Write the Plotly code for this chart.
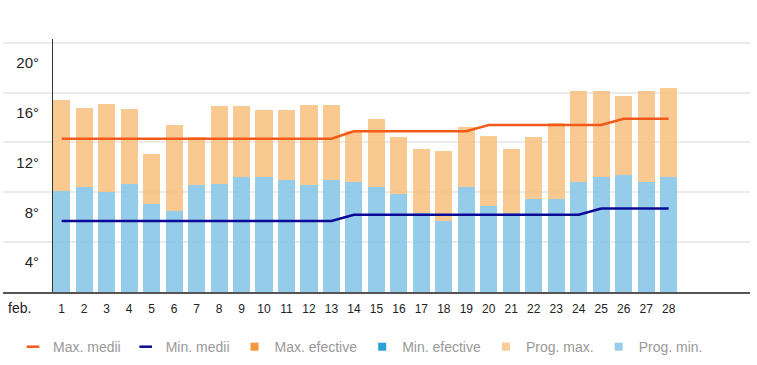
import plotly.graph_objects as go

days = list(range(1, 29))
day_labels = [str(d) for d in days]
month_label = "feb."

prog_max = [15.4, 14.8, 15.1, 14.7, 11.1, 13.4, 12.4, 14.9, 14.9, 14.6, 14.6, 15.0, 15.0, 12.9,
            13.9, 12.4, 11.5, 11.3, 13.2, 12.5, 11.5, 12.4, 13.6, 16.1, 16.1, 15.7, 16.1, 16.4]
prog_min = [8.1, 8.4, 8.0, 8.7, 7.1, 6.5, 8.6, 8.7, 9.2, 9.2, 9.0, 8.6, 9.0, 8.8,
            8.4, 7.9, 6.3, 5.7, 8.4, 6.9, 6.3, 7.5, 7.5, 8.8, 9.2, 9.4, 8.8, 9.2]
max_medii = [12.3] * 13 + [12.9] * 6 + [13.4] * 6 + [13.9] * 3
min_medii = [5.7] * 13 + [6.2] * 11 + [6.7] * 4

y_ticks = [4, 8, 12, 16, 20]
y_tick_text = ["4°", "8°", "12°", "16°", "20°"]

FONT = "Liberation Sans, Arial, sans-serif"
ORANGE_LINE = "#f25a1c"
NAVY_LINE = "#0a0a96"
PROG_MAX_C = "rgba(247,191,125,0.85)"
PROG_MIN_C = "rgba(133,196,231,0.87)"

fig = go.Figure()

# bars: blue from 0 to min, orange from min to max
fig.add_trace(go.Bar(x=days, y=prog_min, width=0.76, marker=dict(color=PROG_MIN_C, line=dict(width=0)),
                     showlegend=False, hoverinfo="skip"))
fig.add_trace(go.Bar(x=days, y=[a - b for a, b in zip(prog_max, prog_min)], base=prog_min, width=0.76,
                     marker=dict(color=PROG_MAX_C, line=dict(width=0)), showlegend=False, hoverinfo="skip"))

fig.add_trace(go.Scatter(x=days, y=max_medii, mode="lines", line=dict(color=ORANGE_LINE, width=2.6),
                         showlegend=False, hoverinfo="skip"))
fig.add_trace(go.Scatter(x=days, y=min_medii, mode="lines", line=dict(color=NAVY_LINE, width=2.6),
                         showlegend=False, hoverinfo="skip"))

# legend entries
legend_items = [
    ("Max. medii", "line-ew", ORANGE_LINE),
    ("Min. medii", "line-ew", NAVY_LINE),
    ("Max. efective", "square", "#f7973d"),
    ("Min. efective", "square", "#2c9fd9"),
    ("Prog. max.", "square", "#fdca99"),
    ("Prog. min.", "square", "#96cdea"),
]
for name, sym, col in legend_items:
    if sym == "line-ew":
        mk = dict(symbol="line-ew", size=9, color=col, line=dict(color=col, width=2.5))
    else:
        mk = dict(symbol="square", size=8, color=col, line=dict(width=0))
    fig.add_trace(go.Scatter(x=[None], y=[None], mode="markers", name=name, marker=mk))

fig.update_layout(
    width=757, height=365, autosize=False,
    margin=dict(l=3, r=7, t=39, b=72),
    paper_bgcolor="white", plot_bgcolor="white",
    barmode="overlay", bargap=0,
    font=dict(family=FONT, color="#222"),
    xaxis=dict(
        range=[-1.611, 31.62], tickmode="array",
        tickvals=[-0.868] + days,
        ticktext=['<span style="font-size:14px">' + month_label + '</span>'] + day_labels,
        tickfont=dict(size=12, color="#222"),
        showgrid=False, zeroline=False, automargin=False,
        showline=True, linecolor="#555", linewidth=2,
        ticks="outside", ticklen=5, tickcolor="rgba(0,0,0,0)",
    ),
    yaxis=dict(
        range=[0, 20.3], tickmode="array", tickvals=y_ticks, ticktext=y_tick_text,
        tickfont=dict(size=15, color="#222"),
        showgrid=True, gridcolor="#ebebeb", gridwidth=2,
        zeroline=False, showline=True, linecolor="#333", linewidth=1,
        anchor="free", position=(52 - 3) / 747, automargin=False,
        ticks="", ticklabelshift=20, ticklabelstandoff=10,
    ),
    legend=dict(
        orientation="h", x=0.0134, xanchor="left", y=-0.213, yanchor="middle",
        font=dict(size=14, color="#999", family=FONT),
        itemclick=False, itemdoubleclick=False,
    ),
)

fig.write_html("out.html", config={"displayModeBar": False},
               post_script="document.body.style.margin='0';document.body.style.overflow='hidden';")
